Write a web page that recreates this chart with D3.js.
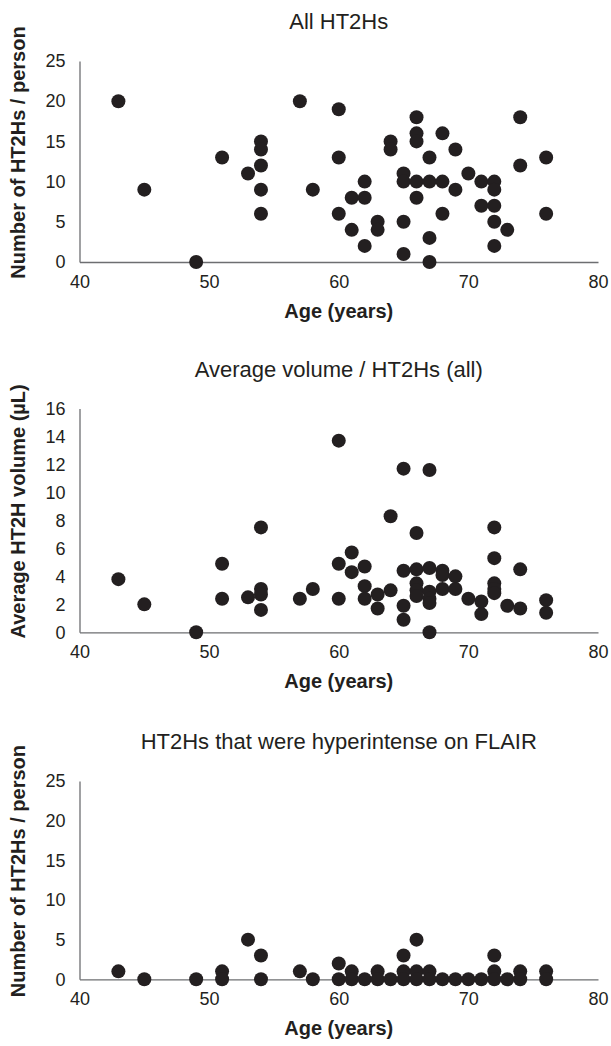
<!DOCTYPE html>
<html>
<head>
<meta charset="utf-8">
<script src="https://cdn.jsdelivr.net/npm/d3@7"></script>
<style>
  body { margin: 0; background: #fff; }
  text { font-family: "Liberation Sans", Arial, Helvetica, sans-serif; fill: #231f20; }
</style>
</head>
<body>
<script>
// panel 1 - all HT2Hs per person
var ages1   = [43,45,49,51,53,54,54,54,54,54,57,58,60,60,60,61,61,62,62,62,63,63,64,64,65,65,65,65,66,66,66,66,66,67,67,67,67,68,68,68,69,69,70,71,71,72,72,72,72,72,73,74,74,76,76];
var counts1 = [20, 9, 0,13,11,15,14,12, 9, 6,20, 9,19,13, 6, 8, 4,10, 8, 2, 5, 4,15,14,11,10, 5, 1,18,16,15,10, 8,13,10, 3, 0,16,10, 6,14, 9,11,10, 7,10, 9, 7, 5, 2, 4,18,12,13, 6];

// panel 2 - average volume
var ages2    = [43,45,49,51,51,53,54,54,54,54,57,58,60,60,60,61,61,62,62,62,63,63,64,64,65,65,65,65,66,66,66,66,66,67,67,67,67,67,67,68,68,68,69,69,70,71,71,72,72,72,72,72,73,74,74,76,76];
var volumes2 = [3.8,2.0,0,4.9,2.4,2.5,7.5,3.1,2.7,1.6,2.4,3.1,13.7,4.9,2.4,5.7,4.3,4.7,3.3,2.4,2.7,1.7,8.3,3.0,11.7,4.4,1.9,0.9,7.1,4.5,3.5,3.0,2.6,11.6,4.6,2.9,2.4,2.1,0,4.4,4.1,3.1,4.0,3.1,2.4,2.2,1.3,7.5,5.3,3.5,3.1,2.8,1.9,4.5,1.7,2.3,1.4];

// panel 3 - hyperintense on FLAIR
var ages3   = [43,45,49,51,51,53,54,54,57,58,60,60,61,61,62,63,63,64,65,65,65,66,66,66,67,67,68,69,70,71,72,72,72,73,74,74,76,76];
var counts3 = [ 1, 0, 0, 1, 0, 5, 3, 0, 1, 0, 2, 0, 1, 0, 0, 1, 0, 0, 3, 1, 0, 5, 1, 0, 1, 0, 0, 0, 0, 0, 3, 1, 0, 0, 1, 0, 1, 0];

var xTicks = [40,50,60,70,80];
var yTicksCount = [0,5,10,15,20,25];
var yTicksVol = [0,2,4,6,8,10,12,14,16];

var titles = ["All HT2Hs", "Average volume / HT2Hs (all)", "HT2Hs that were hyperintense on FLAIR"];
var yTitles = ["Number of HT2Hs / person", "Average HT2H volume (\u00b5L)", "Number of HT2Hs / person"];

var W = 611, H = 1046;
var dotColor = "#231f20", axisColor = "#6d6e71";

var svg = d3.select("body").append("svg")
    .attr("width", W)
    .attr("height", H);

var x = d3.scaleLinear().domain([40, 80]).range([79.5, 598]);

var panels = [
  {xs: ages1, ys: counts1, max: 25, ticks: yTicksCount, top: 61,    bottom: 262},
  {xs: ages2, ys: volumes2, max: 16, ticks: yTicksVol,  top: 408.5, bottom: 632.3},
  {xs: ages3, ys: counts3, max: 25, ticks: yTicksCount, top: 781,   bottom: 979.3}
];

panels.forEach(function(p, i) {
    var y = d3.scaleLinear().domain([0, p.max]).range([p.bottom, p.top]);
    var g = svg.append("g");

    // title
    g.append("text")
        .attr("x", (x(40) + x(80)) / 2)
        .attr("y", p.top - 32)
        .attr("text-anchor", "middle")
        .style("font-size", "22px")
        .text(titles[i]);

    // axes: plain lines, no ticks
    var yAxis = d3.axisLeft(y).tickValues(p.ticks).tickSize(0).tickPadding(14);
    var ga = g.append("g").attr("transform", "translate(" + x(40) + ",0)").call(yAxis);
    ga.select(".domain").attr("stroke", axisColor).attr("stroke-width", 1.3);
    ga.selectAll("text").style("font-size", "18px").attr("fill", dotColor);

    var xAxis = d3.axisBottom(x).tickValues(xTicks).tickSize(0).tickPadding(13);
    var gx = g.append("g").attr("transform", "translate(0," + p.bottom + ")").call(xAxis);
    gx.select(".domain").attr("stroke", axisColor).attr("stroke-width", 1.3);
    gx.selectAll("text").style("font-size", "18px").attr("fill", dotColor);

    // axis titles
    g.append("text")
        .attr("x", (x(40) + x(80)) / 2)
        .attr("y", p.bottom + 56)
        .attr("text-anchor", "middle")
        .style("font-size", "20px")
        .style("font-weight", "bold")
        .text("Age (years)");

    g.append("text")
        .attr("transform", "translate(25," + ((p.top + p.bottom) / 2 - 9) + ") rotate(-90)")
        .attr("text-anchor", "middle")
        .style("font-size", "20px")
        .style("font-weight", "bold")
        .text(yTitles[i]);

    // dots
    g.selectAll("circle")
        .data(p.xs)
        .enter().append("circle")
        .attr("cx", function(d) { return x(d); })
        .attr("cy", function(d, j) { return y(p.ys[j]); })
        .attr("r", 7)
        .attr("fill", dotColor);
});
</script>
</body>
</html>
